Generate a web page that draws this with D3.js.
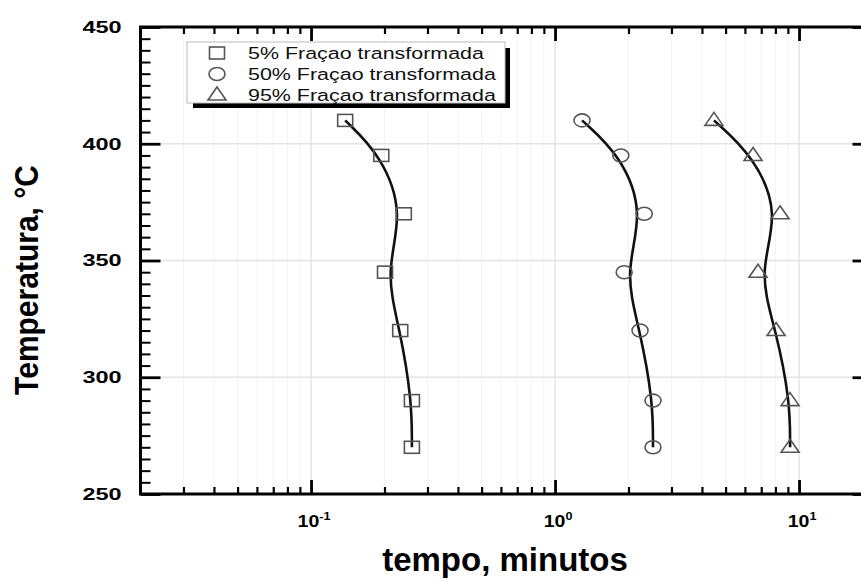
<!DOCTYPE html>
<html>
<head>
<meta charset="utf-8">
<script src="https://cdn.jsdelivr.net/npm/d3@7"></script>
<style>
  body { margin: 0; background: #fff; }
  svg { display: block; }
</style>
</head>
<body>
<div id="chart"></div>
<script>
// temperatures (°C) of the measured points
var temps = [410, 395, 370, 345, 320, 290, 270];
// time (min) for each transformed fraction
var time5 = [0.138, 0.194, 0.240, 0.201, 0.232, 0.259, 0.259];
var time50 = [1.29, 1.86, 2.32, 1.92, 2.23, 2.52, 2.52];
var time95 = [4.48, 6.48, 8.36, 6.79, 8.05, 9.19, 9.19];

var seriesNames = ["5% Fraçao transformada", "50% Fraçao transformada", "95% Fraçao transformada"];
var seriesShapes = ["square", "circle", "triangle"];
var yTicks = [250, 300, 350, 400, 450];
var xMajorTicks = [0.1, 1, 10];

var attrs = {
  width: 861,
  height: 581,
  margin: { top: 27, left: 140.5, right: -11.5, bottom: 87 },
  markerStroke: "#555",
  textStretch: 1.3
};

var chartWidth = attrs.width - attrs.margin.left - attrs.margin.right;
var chartHeight = attrs.height - attrs.margin.top - attrs.margin.bottom;

var svg = d3.select("#chart")
  .append("svg")
  .attr("width", attrs.width)
  .attr("height", attrs.height)
  .style("font-family", "Arial, 'Liberation Sans', sans-serif");

var chart = svg.append("g")
  .attr("transform", `translate(${attrs.margin.left}, ${attrs.margin.top})`);

var x = d3.scaleLog().domain([0.02, 20]).range([0, chartWidth]);
var y = d3.scaleLinear().domain([250, 450]).range([chartHeight, 0]);

var xMinor = x.ticks().filter(d => xMajorTicks.indexOf(d) < 0 && d > 0.02 && d < 20);
var yMinor = d3.range(250, 451, 5).filter(d => yTicks.indexOf(d) < 0);

// grid
var grid = chart.append("g").attr("class", "grid");
grid.selectAll(".xminor")
  .data(xMinor)
  .join("line")
  .attr("x1", d => x(d)).attr("x2", d => x(d))
  .attr("y1", 0).attr("y2", chartHeight)
  .attr("stroke", "#f3f3f3").attr("stroke-width", 1);
grid.selectAll(".xmajor")
  .data(xMajorTicks)
  .join("line")
  .attr("x1", d => x(d)).attr("x2", d => x(d))
  .attr("y1", 0).attr("y2", chartHeight)
  .attr("stroke", "#e4e4e4").attr("stroke-width", 1.5);
grid.selectAll(".ymajor")
  .data(yTicks.slice(1, -1))
  .join("line")
  .attr("x1", 0).attr("x2", chartWidth)
  .attr("y1", d => y(d)).attr("y2", d => y(d))
  .attr("stroke", "#e4e4e4").attr("stroke-width", 1.5);

// axes with inward ticks
function styleAxis(g, w) {
  g.select(".domain").remove();
  g.selectAll(".tick line").attr("stroke", "#000").attr("stroke-width", w);
  g.selectAll(".tick text").remove();
}

[[d3.axisBottom, chartHeight, -7, -14], [d3.axisTop, 0, -7, -14]].forEach(a => {
  chart.append("g").attr("transform", `translate(0,${a[1]})`)
    .call(a[0](x).tickValues(xMinor).tickSize(a[2]).tickSizeOuter(0))
    .call(g => styleAxis(g, 2.2));
  chart.append("g").attr("transform", `translate(0,${a[1]})`)
    .call(a[0](x).tickValues(xMajorTicks).tickSize(a[3]).tickSizeOuter(0))
    .call(g => styleAxis(g, 2.8));
});

[[d3.axisLeft, 0], [d3.axisRight, chartWidth]].forEach(a => {
  chart.append("g").attr("transform", `translate(${a[1]},0)`)
    .call(a[0](y).tickValues(yMinor).tickSize(-10).tickSizeOuter(0))
    .call(g => styleAxis(g, 2));
  chart.append("g").attr("transform", `translate(${a[1]},0)`)
    .call(a[0](y).tickValues(yTicks).tickSize(-20).tickSizeOuter(0))
    .call(g => styleAxis(g, 2.8));
});

// frame
chart.append("rect")
  .attr("width", chartWidth).attr("height", chartHeight)
  .attr("fill", "none").attr("stroke", "#000").attr("stroke-width", 3);

// tick labels
svg.append("g").selectAll("text")
  .data(yTicks)
  .join("text")
  .attr("transform", d => `translate(${attrs.margin.left - 19},${attrs.margin.top + y(d)}) scale(1.42,1)`)
  .attr("text-anchor", "end")
  .attr("dy", "0.35em")
  .attr("font-size", 16.5)
  .attr("font-weight", "bold")
  .text(d => d);

var xLabels = svg.append("g").selectAll("text")
  .data(xMajorTicks)
  .join("text")
  .attr("transform", d => `translate(${attrs.margin.left + x(d) + 3},527) scale(1.15,1)`)
  .attr("text-anchor", "middle")
  .attr("font-size", 17)
  .attr("font-weight", "bold");
xLabels.append("tspan").text("10");
xLabels.append("tspan")
  .attr("dy", -7)
  .attr("font-size", 11)
  .text(d => Math.round(Math.log10(d)));

// axis titles
svg.append("text")
  .attr("x", 505).attr("y", 571)
  .attr("text-anchor", "middle")
  .attr("font-size", 33)
  .attr("font-weight", "bold")
  .text("tempo, minutos");

svg.append("text")
  .attr("transform", "translate(38,280) rotate(-90) scale(1,1.12)")
  .attr("text-anchor", "middle")
  .attr("font-size", 30)
  .attr("font-weight", "bold")
  .text("Temperatura, °C");

// markers
function drawMarker(g, shape, cx, cy) {
  if (shape === "square") {
    g.append("rect")
      .attr("x", cx - 7.5).attr("y", cy - 6)
      .attr("width", 15).attr("height", 12);
  } else if (shape === "circle") {
    g.append("ellipse")
      .attr("cx", cx).attr("cy", cy)
      .attr("rx", 8).attr("ry", 6.5);
  } else {
    g.append("path")
      .attr("d", `M${cx},${cy - 8}L${cx + 9},${cy + 5}L${cx - 9},${cy + 5}Z`);
  }
}

var series = [time5, time50, time95].map((times, i) => ({
  name: seriesNames[i],
  shape: seriesShapes[i],
  values: times.map((t, j) => ({ t: t, T: temps[j] }))
}));

var line = d3.line()
  .x(d => x(d.t))
  .y(d => y(d.T))
  .curve(d3.curveBasis);

var plot = chart.append("g");

plot.selectAll(".fit")
  .data(series)
  .join("path")
  .attr("class", "fit")
  .attr("d", d => line(d.values))
  .attr("fill", "none")
  .attr("stroke", "#111")
  .attr("stroke-width", 2.6);

series.forEach(s => {
  var g = plot.append("g")
    .attr("fill", "none")
    .attr("stroke", attrs.markerStroke)
    .attr("stroke-width", 1.6);
  s.values.forEach(d => drawMarker(g, s.shape, x(d.t), y(d.T)));
});

// legend
var legend = svg.append("g");
legend.append("rect")
  .attr("x", 193).attr("y", 48)
  .attr("width", 317).attr("height", 60)
  .attr("fill", "#000");
legend.append("rect")
  .attr("x", 187).attr("y", 42)
  .attr("width", 318).attr("height", 61)
  .attr("fill", "#fff")
  .attr("stroke", "#bbb")
  .attr("stroke-width", 1);

series.forEach((s, i) => {
  var cy = 53 + i * 21;
  var g = legend.append("g")
    .attr("fill", "none")
    .attr("stroke", attrs.markerStroke)
    .attr("stroke-width", 1.6);
  drawMarker(g, s.shape, 217, cy);
  legend.append("text")
    .attr("transform", `translate(248,${cy}) scale(${attrs.textStretch},1)`)
    .attr("dy", "0.36em")
    .attr("font-size", 16.5)
    .attr("fill", "#111")
    .text(s.name);
});
</script>
</body>
</html>
